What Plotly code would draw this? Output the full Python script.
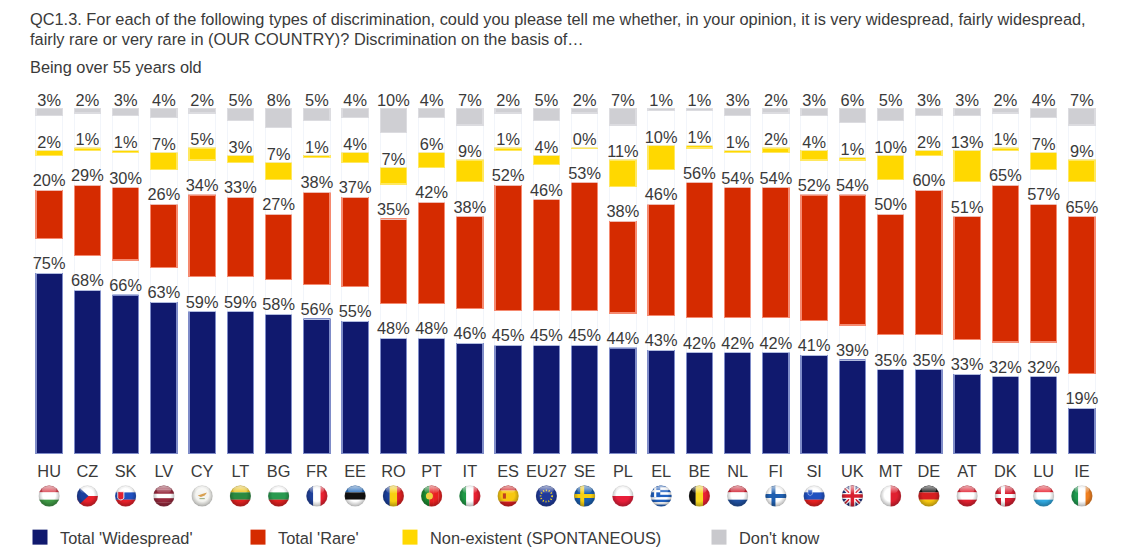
import base64
import plotly.graph_objects as go

codes = ["HU","CZ","SK","LV","CY","LT","BG","FR","EE","RO","PT","IT","ES","EU27","SE","PL","EL","BE","NL","FI","SI","UK","MT","DE","AT","DK","LU","IE"]
widespread = [75,68,66,63,59,59,58,56,55,48,48,46,45,45,45,44,43,42,42,42,41,39,35,35,33,32,32,19]
rare = [20,29,30,26,34,33,27,38,37,35,42,38,52,46,53,38,46,56,54,54,52,54,50,60,51,65,57,65]
nonexistent = [2,1,1,7,5,3,7,1,4,7,6,9,1,4,0,11,10,1,1,2,4,1,10,2,13,1,7,9]
dont_know = [3,2,3,4,2,5,8,5,4,10,4,7,2,5,2,7,1,1,3,2,3,6,5,3,3,2,4,7]
series_names = ["Total 'Widespread'", "Total 'Rare'", "Non-existent (SPONTANEOUS)", "Don't know"]
title_lines = [
    "QC1.3. For each of the following types of discrimination, could you please tell me whether, in your opinion, it is very widespread, fairly widespread,",
    "fairly rare or very rare in (OUR COUNTRY)? Discrimination on the basis of\u2026",
]
subtitle = "Being over 55 years old"

FONT = "Liberation Sans, Arial, sans-serif"
TXT = "#3a3a3a"
FS = 16.35
GAP = 14.5
Y0, PX = 454, 2.41
H = 549
TOP = 60
ymax = (Y0 - TOP) / PX


def hstripes(*c):
    h = 100 / len(c)
    return "".join(f'<rect x="0" y="{i*h}" width="100" height="{h+.5}" fill="{k}"/>' for i, k in enumerate(c))


def vstripes(*c):
    w = 100 / len(c)
    return "".join(f'<rect y="0" x="{i*w}" height="100" width="{w+.5}" fill="{k}"/>' for i, k in enumerate(c))


def cross(bg, fg):
    return (f'<rect width="100" height="100" fill="{bg}"/><rect x="30" width="18" height="100" fill="{fg}"/>'
            f'<rect y="41" width="100" height="18" fill="{fg}"/>')


flags = {
    "HU": hstripes("#d8414e", "#fff", "#3f9a45"),
    "CZ": hstripes("#fff", "#e8202a") + '<path d="M0 0L55 50L0 100Z" fill="#1c3f9e"/>',
    "SK": hstripes("#fff", "#2050c0", "#e8202a") + '<path d="M14 30h28v30q-14 16-28 0Z" fill="#e02030" stroke="#fff" stroke-width="4"/>',
    "LV": hstripes("#96283c", "#96283c", "#fff", "#96283c", "#96283c"),
    "CY": '<rect width="100" height="100" fill="#f4f4f0"/><path d="M30 48l24-8 18-6-10 14-18 6Z" fill="#d8a050"/><path d="M38 62h24" stroke="#8aa070" stroke-width="4"/>',
    "LT": hstripes("#f0c820", "#2a8a40", "#e02020"),
    "BG": hstripes("#fff", "#2a9a50", "#e02020"),
    "FR": vstripes("#1f3f9a", "#fff", "#e82030"),
    "EE": hstripes("#2a70c0", "#111", "#fff"),
    "RO": vstripes("#1a3f9a", "#f8d010", "#e02020"),
    "PT": vstripes("#1a8a30", "#1a8a30", "#e82020", "#e82020", "#e82020") + '<circle cx="40" cy="50" r="16" fill="#f0d040"/>',
    "IT": vstripes("#1f9a45", "#fff", "#e82030"),
    "ES": hstripes("#d81e20", "#f8c810", "#f8c810", "#d81e20") + '<rect x="26" y="38" width="14" height="24" fill="#c04020"/>',
    "EU27": '<rect width="100" height="100" fill="#1f3a9a"/><circle cx="50" cy="50" r="26" fill="none" stroke="#f0d020" stroke-width="8" stroke-dasharray="5 8"/>',
    "SE": cross("#1a5fb0", "#f8d010"),
    "PL": hstripes("#fff", "#e81e3a"),
    "EL": hstripes("#2060c0", "#fff", "#2060c0", "#fff", "#2060c0", "#fff", "#2060c0", "#fff", "#2060c0")
          + '<rect width="46" height="55" fill="#2060c0"/><rect x="18" width="10" height="55" fill="#fff"/><rect y="23" width="46" height="10" fill="#fff"/>',
    "BE": vstripes("#111", "#f8d820", "#e82030"),
    "NL": hstripes("#d02030", "#fff", "#2050a0"),
    "FI": cross("#fff", "#1f5fb0"),
    "SI": hstripes("#fff", "#2050c0", "#e82020") + '<path d="M22 22h20v20q-10 12-20 0Z" fill="#2050c0" stroke="#fff" stroke-width="2"/>',
    "UK": '<rect width="100" height="100" fill="#20307f"/><path d="M0 0L100 100M100 0L0 100" stroke="#fff" stroke-width="18"/>'
          '<path d="M0 0L100 100M100 0L0 100" stroke="#d82030" stroke-width="7"/><path d="M50 0V100M0 50H100" stroke="#fff" stroke-width="28"/>'
          '<path d="M50 0V100M0 50H100" stroke="#d82030" stroke-width="16"/>',
    "MT": vstripes("#fff", "#e02030"),
    "DE": hstripes("#111", "#d81e20", "#f8c810"),
    "AT": hstripes("#e02030", "#fff", "#e02030"),
    "DK": cross("#d81e30", "#fff"),
    "LU": hstripes("#e8202e", "#fff", "#30a8e0"),
    "IE": vstripes("#1f9a50", "#fff", "#f08020"),
}


def flag_uri(body):
    svg = ('<svg xmlns="http://www.w3.org/2000/svg" width="120" height="120" viewBox="0 0 100 100">'
           '<defs><clipPath id="c"><circle cx="50" cy="50" r="48"/></clipPath>'
           '<radialGradient id="g" cx="50%" cy="45%" r="55%"><stop offset="55%" stop-color="#000" stop-opacity="0"/>'
           '<stop offset="100%" stop-color="#000" stop-opacity=".3"/></radialGradient>'
           '<linearGradient id="s" x1="0" y1="0" x2="0" y2="1"><stop offset="0" stop-color="#fff" stop-opacity=".65"/>'
           '<stop offset="1" stop-color="#fff" stop-opacity="0"/></linearGradient></defs>'
           f'<g clip-path="url(#c)">{body}<circle cx="50" cy="50" r="48" fill="url(#g)"/>'
           '<ellipse cx="50" cy="22" rx="34" ry="18" fill="url(#s)"/></g>'
           '<circle cx="50" cy="50" r="47.5" fill="none" stroke="#999" stroke-opacity=".5" stroke-width="1.5"/></svg>')
    return "data:image/svg+xml;base64," + base64.b64encode(svg.encode()).decode()


styles = [("#10196e", "#7f8cc8", widespread), ("#d52b00", "#f58a70", rare),
          ("#ffd800", "#ffe860", nonexistent), ("#cfcfd3", "#dcdce0", dont_know)]
swatch_colors = ["#10196e", "#d52b00", "#ffd800", "#c9c9cd"]
label_nudge = [0, 0, -0.6, -0.8]

fig = go.Figure()
spacer = [GAP] * len(codes)
cum = [0] * len(codes)
for i, (fill, edge, vals) in enumerate(styles):
    key = "legend" if i == 0 else f"legend{i+1}"
    if i:
        fig.add_trace(go.Bar(x=codes, y=spacer, marker_color="rgba(0,0,0,0)", showlegend=False, hoverinfo="skip"))
        cum = [c + GAP for c in cum]
    fig.add_trace(go.Bar(x=codes, y=vals, name=series_names[i], marker=dict(color=fill, line=dict(color=edge, width=1.2)),
                         showlegend=False, legendgroup=series_names[i], legend=key))
    cum = [c + v for c, v in zip(cum, vals)]
    fig.add_trace(go.Scatter(x=codes, y=[c + label_nudge[i] for c in cum], mode="text", text=[f"{v}%" for v in vals], textposition="top center",
                             textfont=dict(family=FONT, size=FS, color=TXT), showlegend=False, hoverinfo="skip"))
    fig.add_trace(go.Scatter(x=[None], y=[None], mode="markers", name=series_names[i], legendgroup=series_names[i], legend=key,
                             marker=dict(symbol="square", size=15, color=swatch_colors[i])))

plot_h = Y0 - TOP
images = [dict(source=flag_uri(flags[c]), xref="x", yref="paper", x=i, y=(Y0 - 496) / plot_h,
               sizex=22 / 38.26, sizey=22 / plot_h, xanchor="center", yanchor="middle", layer="above")
          for i, c in enumerate(codes)]


def ypaper(py):
    return (Y0 - py) / plot_h


annos = [dict(xref="paper", yref="paper", x=-2 / 1071, y=ypaper(py), xanchor="left", yanchor="middle", showarrow=False,
              text=t, font=dict(family=FONT, size=FS, color=TXT))
         for t, py in zip(title_lines + [subtitle], [19, 39, 67])]

legend_x = [20, 238, 390, 699]
legends = {}
for i, lx in enumerate(legend_x):
    key = "legend" if i == 0 else f"legend{i+1}"
    legends[key] = dict(x=(lx - 30) / 1071, y=ypaper(520), xanchor="left", yanchor="top", bgcolor="rgba(0,0,0,0)",
                        font=dict(family=FONT, size=FS, color=TXT), itemwidth=30)

fig.update_layout(
    width=1128, height=H, margin=dict(l=30, r=27, t=TOP, b=H - Y0, autoexpand=False), autosize=False,
    paper_bgcolor="white", plot_bgcolor="white", barmode="stack", bargap=0.31,
    xaxis=dict(type="category", categoryorder="array", categoryarray=codes, range=[-0.5, len(codes) - 0.5],
               showgrid=False, showline=False, zeroline=False,
               automargin=False, ticks="outside", ticklen=2, tickcolor="rgba(0,0,0,0)", tickfont=dict(family=FONT, size=FS, color=TXT)),
    yaxis=dict(range=[0, ymax], visible=False),
    images=images, annotations=annos, **legends,
)
fig.write_html("out.html", config={"displayModeBar": False}, post_script="document.body.style.margin='0';")
